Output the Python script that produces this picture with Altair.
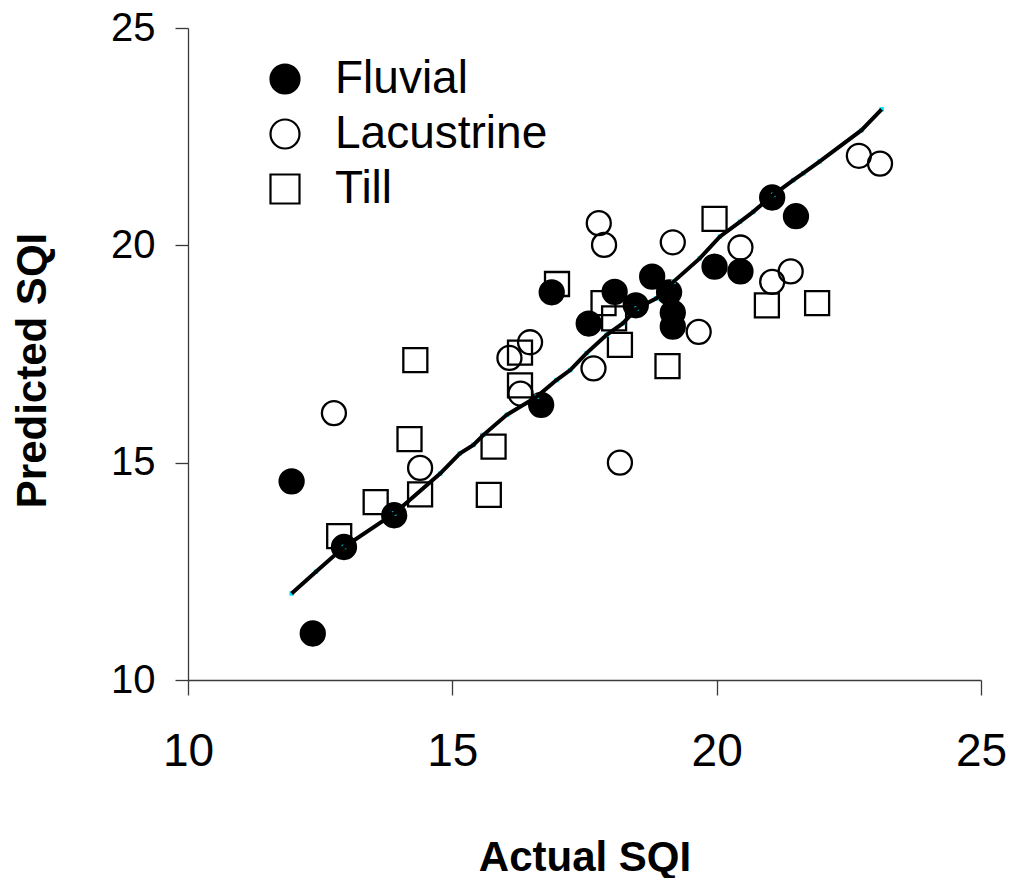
import altair as alt
import pandas as pd

# Soil quality index: measured (actual) vs model-predicted, by parent material
fluvial_actual = [11.96, 12.36, 12.95, 13.90, 16.68, 16.88, 17.58, 18.07, 18.47,
                  18.78, 19.10, 19.17, 19.17, 19.96, 20.45, 21.05, 21.50]
fluvial_pred = [14.57, 11.07, 13.06, 13.79, 16.33, 18.92, 18.20, 18.93, 18.62,
                19.28, 18.92, 18.45, 18.13, 19.51, 19.40, 21.10, 20.67]

lacustrine_actual = [12.76, 14.39, 16.08, 16.29, 16.47, 17.67, 17.77, 17.87, 18.17,
                     19.17, 19.66, 20.45, 21.05, 21.40, 22.69, 23.09]
lacustrine_pred = [16.14, 14.88, 17.41, 16.59, 17.77, 17.17, 20.51, 20.01, 15.00,
                   20.07, 18.01, 19.95, 19.16, 19.40, 22.06, 21.88]

till_actual = [12.86, 13.55, 14.19, 14.30, 14.39, 15.69, 15.78, 16.28, 16.28,
               16.98, 17.86, 18.06, 18.17, 19.07, 19.96, 20.95, 21.90]
till_pred = [13.31, 14.09, 15.54, 17.36, 14.27, 14.26, 15.37, 17.53, 16.78,
             19.11, 18.67, 18.32, 17.71, 17.22, 20.61, 18.62, 18.67]

# Fitted prediction line vertices
fit_actual = [11.96, 12.42, 12.95, 13.90, 14.77, 15.14, 15.40, 15.59, 16.03, 16.60,
              16.97, 17.23, 17.54, 17.92, 18.23, 18.49, 18.86, 19.18, 19.68, 20.06,
              20.44, 20.69, 21.07, 21.45, 21.64, 21.95, 22.74, 23.12]
fit_pred = [11.99, 12.49, 13.06, 13.83, 14.75, 15.21, 15.41, 15.64, 16.10, 16.52,
            16.90, 17.13, 17.52, 17.94, 18.21, 18.55, 18.78, 19.16, 19.70, 20.20,
            20.54, 20.77, 21.16, 21.50, 21.66, 21.93, 22.65, 23.13]

groups = ["Fluvial", "Lacustrine", "Till"]
tick_values = [10, 15, 20, 25]

points_df = pd.concat([
    pd.DataFrame({"actual": fluvial_actual, "predicted": fluvial_pred, "group": "Fluvial"}),
    pd.DataFrame({"actual": lacustrine_actual, "predicted": lacustrine_pred, "group": "Lacustrine"}),
    pd.DataFrame({"actual": till_actual, "predicted": till_pred, "group": "Till"}),
], ignore_index=True)

fit_df = pd.DataFrame({"actual": fit_actual, "predicted": fit_pred,
                       "idx": list(range(len(fit_actual)))})

FONT = "Liberation Sans"
AXIS_COLOR = "#3a3a3a"

x_scale = alt.Scale(domain=[10, 25], nice=False, zero=False)
y_scale = alt.Scale(domain=[10, 25], nice=False, zero=False)

x_axis = alt.Axis(
    values=tick_values, grid=False, tickSize=15, tickColor=AXIS_COLOR,
    domainColor=AXIS_COLOR, domainWidth=1.3, tickWidth=1.3,
    labelFont=FONT, labelFontSize=46, labelColor="black", labelPadding=34,
    labelFlush=False, labelOverlap=False,
    title="Actual SQI", titleFont=FONT, titleFontSize=42, titleFontWeight="bold",
    titleColor="black", titleY=190, titleBaseline="alphabetic",
)
y_axis = alt.Axis(
    values=tick_values, grid=False, tickSize=13, tickColor=AXIS_COLOR,
    domainColor=AXIS_COLOR, domainWidth=1.3, tickWidth=1.3,
    labelFont=FONT, labelFontSize=40, labelColor="black", labelPadding=20,
    labelFlush=False, labelOverlap=False,
    title="Predicted SQI", titleFont=FONT, titleFontSize=42, titleFontWeight="bold",
    titleColor="black", titleX=-143, titleY=342, titleBaseline="alphabetic",
    titleAngle=270,
)

legend = alt.Legend(
    orient="none", legendX=74, legendY=28, title=None, padding=0,
    labelFont=FONT, labelFontSize=46, labelColor="black", labelOffset=27,
    labelLimit=0, symbolSize=841, symbolStrokeWidth=2.2, symbolStrokeColor="black",
    rowPadding=9,
)

symbol_shapes = alt.Scale(domain=groups, range=["circle", "circle", "square"])
symbol_fills = alt.Scale(domain=groups, range=["black", "transparent", "transparent"])
symbol_strokes = alt.Scale(domain=groups, range=["black", "black", "black"])

points = alt.Chart(points_df).mark_point(
    filled=True, size=576, strokeWidth=2.3, opacity=1
).encode(
    x=alt.X("actual:Q", scale=x_scale, axis=x_axis),
    y=alt.Y("predicted:Q", scale=y_scale, axis=y_axis),
    shape=alt.Shape("group:N", scale=symbol_shapes, legend=legend),
    fill=alt.Fill("group:N", scale=symbol_fills, legend=legend),
    stroke=alt.Stroke("group:N", scale=symbol_strokes, legend=legend),
)

fit_markers = alt.Chart(fit_df).mark_square(size=20, color="#00e8ff", opacity=1).encode(
    x=alt.X("actual:Q", scale=x_scale),
    y=alt.Y("predicted:Q", scale=y_scale),
)

fit_line = alt.Chart(fit_df).mark_line(color="black", strokeWidth=4).encode(
    x=alt.X("actual:Q", scale=x_scale),
    y=alt.Y("predicted:Q", scale=y_scale),
    order=alt.Order("idx:Q"),
)

chart = alt.layer(points, fit_markers, fit_line).properties(
    width=793, height=652,
    autosize=alt.AutoSizeParams(type="none"),
    padding={"left": 188, "top": 28, "right": 35, "bottom": 198},
    background="white",
).configure_view(stroke=None)

chart.save("out.html", embed_options={"renderer": "svg", "actions": False})
